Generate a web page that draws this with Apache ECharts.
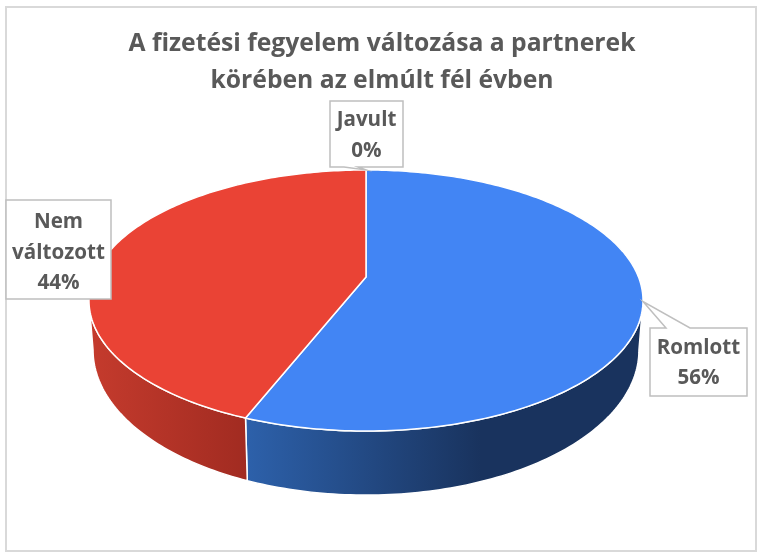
<!DOCTYPE html>
<html><head><meta charset="utf-8">
<style>html,body{margin:0;padding:0;background:#fff}#c{width:762px;height:557px}</style>
<script src="https://cdn.jsdelivr.net/npm/echarts@6/dist/echarts.min.js"></script>
</head><body><div id="c"></div>
<script>
const titleText = 'A fizetési fegyelem változása a partnerek\nkörében az elmúlt fél évben';
const categories = ['Javult', 'Romlott', 'Nem\nváltozott'];
const values = [0, 56, 44];
const topColors = ['#F4B400', '#4285F4', '#EA4335'];
const sideStops = [
  null,
  [[0, '#2D61AB'], [0.59, '#19335E'], [1, '#19335E']],
  [[0, '#C53B2D'], [1, '#A12B21']]
];
// label callouts: box [x0, y0, x1, y1], pointer base on the box edge
const boxes = [[330, 101, 403, 167], [650, 328, 747, 396], [6, 200, 111, 299]];
const pointerBase = [[344, 167, 358, 167], [666, 328, 690, 328], null];
const textShift = [1.5, 1, 3.5];

// projection of the tilted disc
const K = 0.18, CX = 366;
const TOP = {a: 272.5, b: 126.3, y0: 277};
const BOTTOM = {a: 268.5, b: 140.3, y0: 324};
const RIM = Math.acos(-K) * 180 / Math.PI; // angle of the widest point of the projected disc
function project(plane, deg) {
  const t = deg * Math.PI / 180, x = Math.sin(t), y = Math.cos(t), w = 1 + K * y;
  return [CX + plane.a * x / w, plane.y0 - plane.b * y / w];
}
const total = values.reduce((s, v) => s + v, 0);
function startAngle(i) {
  let s = 0;
  for (let j = 0; j < i; j++) s += values[j];
  return s / total * 360;
}
function arc(plane, a0, a1) {
  const pts = [], n = Math.max(2, Math.ceil(Math.abs(a1 - a0)));
  for (let i = 0; i <= n; i++) pts.push(project(plane, a0 + (a1 - a0) * i / n));
  return pts;
}
function renderSlice(params, api) {
  const i = params.dataIndex, v = api.value(0);
  const a0 = startAngle(i), a1 = a0 + v / total * 360;
  const children = [];
  if (v > 0) {
    const f0 = Math.max(a0, RIM), f1 = Math.min(a1, 360 - RIM);
    if (f1 > f0) {
      const upper = arc(TOP, f0, f1), lower = arc(BOTTOM, f0, f1).reverse();
      children.push({
        type: 'polygon', shape: {points: upper.concat(lower)},
        style: {
          fill: new echarts.graphic.LinearGradient(0, 0, 1, 0,
            sideStops[i].map(s => ({offset: s[0], color: s[1]}))),
          stroke: '#fff', lineWidth: 1.5, lineJoin: 'round'
        }
      });
    }
    children.push({
      type: 'polygon',
      shape: {points: [[CX, TOP.y0]].concat(arc(TOP, a0, a1))},
      style: {fill: topColors[i], stroke: '#fff', lineWidth: 1.5, lineJoin: 'round'},
      z2: 5
    });
  }
  return {type: 'group', children};
}
function renderLabel(params, api) {
  const i = params.dataIndex, v = api.value(0);
  const mid = startAngle(i) + v / total * 180;
  const anchor = project(TOP, mid);
  const [x0, y0, x1, y1] = boxes[i];
  const base = pointerBase[i];
  let pts = [[x0, y0], [x1, y0], [x1, y1], [x0, y1]];
  if (base) {
    if (base[1] === y1) pts = [[x0, y0], [x1, y0], [x1, y1], [base[2], y1], anchor, [base[0], y1], [x0, y1]];
    else pts = [[x0, y0], [base[0], y0], anchor, [base[2], y0], [x1, y0], [x1, y1], [x0, y1]];
  }
  return {
    type: 'group',
    children: [
      {type: 'polygon', shape: {points: pts}, style: {fill: '#fff', stroke: '#BFBFBF', lineWidth: 1.5}},
      {type: 'text', x: (x0 + x1) / 2, y: (y0 + y1) / 2 + textShift[i],
       style: {
         text: categories[i] + '\n' + Math.round(v / total * 100) + '%',
         align: 'center', verticalAlign: 'middle', fill: '#595959',
         font: 'bold 20.6px "Open Sans", sans-serif', lineHeight: 30.5
       }}
    ]
  };
}
const chart = echarts.init(document.getElementById('c'), null, {renderer: 'canvas'});
chart.setOption({
  animation: false,
  backgroundColor: '#fff',
  title: {
    text: titleText, left: 377, top: 21, textAlign: 'center',
    textStyle: {color: '#595959', fontFamily: '"Open Sans", sans-serif', fontWeight: 'bold', fontSize: 24.7, lineHeight: 36.5}
  },
  graphic: [{type: 'rect', shape: {x: 6, y: 7, width: 750, height: 544},
    style: {fill: 'none', stroke: '#D9D9D9', lineWidth: 2}, silent: true}],
  series: [
    {type: 'custom', coordinateSystem: 'none', renderItem: renderSlice, data: values.map(v => [v]), z: 2},
    {type: 'custom', coordinateSystem: 'none', renderItem: renderLabel, data: values.map(v => [v]), z: 3}
  ]
});
</script></body></html>
